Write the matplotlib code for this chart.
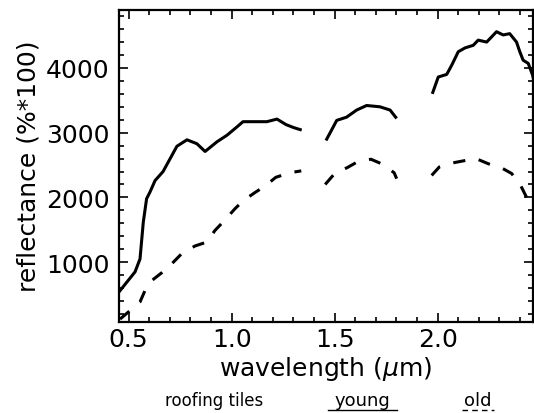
import numpy as np
import matplotlib
matplotlib.use("Agg")
import matplotlib.pyplot as plt
from matplotlib.ticker import MultipleLocator
from matplotlib.lines import Line2D

# spectra, NaN = gap (water absorption bands)
young_wl = [0.453, 0.531, 0.555, 0.571, 0.587, 0.603, 0.628, 0.667, 0.710, 0.734,
            0.783, 0.831, 0.871, 0.929, 0.977, 1.026, 1.055, 1.171, 1.220, 1.264,
            1.300, 1.340,
            np.nan,
            1.458, 1.485, 1.510, 1.558, 1.607, 1.655, 1.720, 1.769, 1.801,
            np.nan,
            1.974, 2.003, 2.044, 2.068, 2.100, 2.133, 2.173, 2.197, 2.238, 2.286,
            2.318, 2.350, 2.383, 2.399, 2.415, 2.440, 2.461, 2.470]
young_refl = [540, 850, 1050, 1620, 1980, 2080, 2260, 2400, 2650, 2790,
              2890, 2830, 2710, 2860, 2960, 3090, 3170, 3170, 3210, 3125,
              3080, 3040,
              np.nan,
              2880, 3040, 3190, 3240, 3350, 3420, 3400, 3350, 3220,
              np.nan,
              3600, 3860, 3900, 4040, 4250, 4310, 4350, 4430, 4400, 4560,
              4510, 4530, 4400, 4250, 4120, 4070, 3890, 3760]

old_wl = [0.458, 0.506, 0.555, 0.579, 0.612, 0.660, 0.717, 0.757, 0.822, 0.879,
          0.919, 0.967, 1.016, 1.056, 1.113, 1.164, 1.214, 1.280, 1.338,
          np.nan,
          1.454, 1.503, 1.561, 1.611, 1.676, 1.735, 1.789, 1.801,
          np.nan,
          1.971, 2.008, 2.068, 2.117, 2.186, 2.246, 2.311, 2.359, 2.399, 2.432,
          2.461, 2.470]
old_refl = [120, 250, 385, 560, 715, 835, 1000, 1130, 1250, 1310,
            1490, 1650, 1825, 1950, 2075, 2180, 2310, 2380, 2410,
            np.nan,
            2200, 2380, 2460, 2550, 2590, 2510, 2380, 2290,
            np.nan,
            2340, 2470, 2530, 2560, 2600, 2520, 2455, 2370, 2210, 2000,
            1990, 1830]

W, H = 534, 414
fig = plt.figure(figsize=(W / 100, H / 100), dpi=100)
ax = fig.add_axes([119 / W, 1 - 322.7 / H, (533 - 119) / W, (322.7 - 10.7) / H])

ax.plot(young_wl, young_refl, color="black", lw=2.2, solid_capstyle="butt")
ax.plot(old_wl, old_refl, color="black", lw=2.2, dashes=(4, 4.5))

ax.set_xlim(0.453, 2.463)
ax.set_ylim(80, 4900)
ax.xaxis.set_major_locator(MultipleLocator(0.5))
ax.xaxis.set_minor_locator(MultipleLocator(0.1))
ax.yaxis.set_major_locator(MultipleLocator(1000))
ax.yaxis.set_minor_locator(MultipleLocator(200))
ax.tick_params(which="both", direction="in", top=True, right=True, width=1.2)
ax.tick_params(which="major", length=6.5, labelsize=18)
ax.tick_params(which="minor", length=3.5)
ax.tick_params(axis="y", pad=7)
ax.tick_params(axis="x", pad=4)
for s in ax.spines.values():
    s.set_linewidth(1.6)

ax.set_xlabel(r"wavelength ($\mu$m)", fontsize=18, labelpad=2)
ax.set_ylabel("reflectance (%*100)", fontsize=18, labelpad=4)

# legend line below the axes
fig.text(165 / W, 1 - 401 / H, "roofing tiles", fontsize=12, ha="left", va="center")
fig.text(362 / W, 1 - 401 / H, "young", fontsize=13, ha="center", va="center")
fig.text(478 / W, 1 - 401 / H, "old", fontsize=13, ha="center", va="center")
fig.add_artist(Line2D([328 / W, 397 / W], [1 - 410.5 / H] * 2, color="black", lw=1.0,
                      transform=fig.transFigure))
fig.add_artist(Line2D([462 / W, 494 / W], [1 - 410.5 / H] * 2, color="black", lw=1.0,
                      dashes=(4, 3), transform=fig.transFigure))

fig.savefig("out.png", dpi=100)
